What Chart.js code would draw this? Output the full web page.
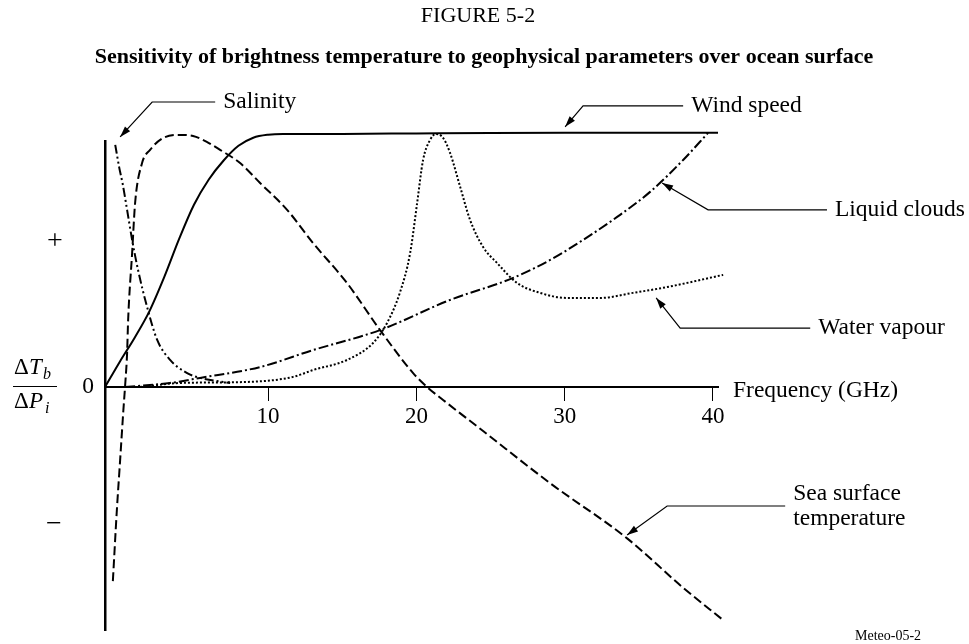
<!DOCTYPE html>
<html>
<head>
<meta charset="utf-8">
<script src="https://cdn.jsdelivr.net/npm/chart.js@4"></script>
<style>
  body { margin: 0; background: #fff; }
  #wrap { width: 969px; height: 644px; }
</style>
</head>
<body>
<div id="wrap"><canvas id="chart" width="969" height="644"></canvas></div>
<script>
// frequency in GHz, response in relative units (plateau = 100)
const windX = [-1, 0, 1, 2, 3, 4, 5, 6, 7, 8, 9, 10, 11, 15, 20, 25, 30, 35, 40.34];
const windY = [0, 10, 19.5, 30, 43.5, 58.5, 72, 82, 89.5, 95.3, 98.5, 99.7, 100, 100, 100.2, 100.4, 100.5, 100.5, 100.5];

const salinityX = [-0.31, -0.05, 0.2, 0.49, 0.83, 1.23, 1.84, 2.52, 3.39, 4.54, 5.41, 7.44];
const salinityY = [95.7, 87, 80, 70, 58.1, 46.2, 31.6, 18.6, 10.7, 5.5, 3.6, 1.6];

const seaX = [-0.47, -0.2, 0.02, 0.24, 0.36, 0.49, 0.56, 0.83, 1.03, 1.5, 2.04, 2.92, 4.07, 4.94, 5.89, 6.76, 8.11, 9.46,
  11.28, 13.03, 15.32, 17.55, 19.78, 20.72, 21.8, 24.5, 29.02, 34.21, 37.99, 40.69];
const seaY = [-76.7, -48.6, -28.9, -9.1, 0.8, 13.4, 26.5, 53, 72.7, 88.5, 93.7, 98.4, 99.6, 99.2, 96.8, 93.7, 88.5, 80.6,
  70, 56.9, 41.1, 22.5, 5.5, 0, -5.1, -17.4, -38, -59.8, -79.3, -92.1];

const cloudX = [0.36, 3.39, 5.41, 9.46, 13.03, 17.55, 22.27, 26.52, 29.02, 31.24, 33.54, 35.76, 37.99, 39.67];
const cloudY = [0, 1.6, 3.6, 7.9, 14.6, 22.5, 34.4, 43.1, 50.2, 58.1, 67.2, 77.1, 89.7, 100.4];

const vapourX = [1.37, 4.07, 8.58, 11.69, 13.03, 15.32, 17.08, 18.02, 18.9, 19.58, 20.05, 20.45, 20.92, 21.33, 21.8,
  22.27, 22.95, 23.62, 24.5, 25.44, 26.79, 28.34, 30.16, 32.39, 34.61, 36.91, 40.69];
const vapourY = [0, 1.6, 2, 4, 6.7, 10.7, 17.4, 25.3, 37.5, 53, 72.7, 89.7, 97.6, 100, 98.4,
  92.5, 79.1, 66, 55.3, 49, 41.1, 37.2, 35.2, 35.2, 37.2, 39.5, 44.3];

const xTicks = [10, 20, 30, 40];

const serif = '"Liberation Serif", "Times New Roman", serif';

function pts(xs, ys) {
    return xs.map((x, i) => ({x: x, y: ys[i]}));
}

function series(data, dash, width) {
    return {
        data: data,
        borderColor: '#000',
        borderWidth: width,
        borderDash: dash,
        pointRadius: 0,
        fill: false,
        clip: false,
        cubicInterpolationMode: 'monotone'
    };
}

// leader lines: tip / elbow / end in data units, text placed after the end
const callouts = [
    {lines: ['Salinity'], tip: [0.02, 98.8], elbow: [2.18, 112.6], end: [6.43, 112.6]},
    {lines: ['Wind speed'], tip: [30.03, 102.8], elbow: [31.24, 111.1], end: [37.99, 111.1]},
    {lines: ['Liquid clouds'], tip: [36.57, 80.6], elbow: [39.67, 70], end: [47.69, 70]},
    {lines: ['Water vapour'], tip: [36.17, 35.2], elbow: [37.79, 23.3], end: [46.56, 23.3]},
    {lines: ['Sea surface', 'temperature'], tip: [34.21, -58.5], elbow: [36.91, -47], end: [44.87, -47]}
];

function arrow(ctx, fx, fy, tx, ty) {
    const a = Math.atan2(ty - fy, tx - fx);
    const len = 11, half = 3.5;
    ctx.beginPath();
    ctx.moveTo(tx, ty);
    ctx.lineTo(tx - len * Math.cos(a) + half * Math.sin(a), ty - len * Math.sin(a) - half * Math.cos(a));
    ctx.lineTo(tx - len * Math.cos(a) - half * Math.sin(a), ty - len * Math.sin(a) + half * Math.cos(a));
    ctx.closePath();
    ctx.fill();
}

const decor = {
    id: 'decor',
    afterDraw(chart) {
        const ctx = chart.ctx;
        const xs = chart.scales.x, ys = chart.scales.y;
        ctx.save();
        ctx.fillStyle = '#000';
        ctx.strokeStyle = '#000';
        ctx.textBaseline = 'middle';

        ctx.textAlign = 'center';
        ctx.font = '22px ' + serif;
        ctx.fillText('FIGURE 5-2', 478, 16);
        ctx.font = 'bold 22px ' + serif;
        ctx.fillText('Sensitivity of brightness temperature to geophysical parameters over ocean surface', 484, 57);

        // left axis marks
        ctx.font = '23.5px ' + serif;
        ctx.fillText('0', 88, ys.getPixelForValue(0));
        ctx.font = '28px ' + serif;
        ctx.fillText('+', 55, 242);
        ctx.fillText('\u2212', 54, 525);

        // dTb / dPi
        ctx.textAlign = 'left';
        ctx.textBaseline = 'alphabetic';
        ctx.font = '23px ' + serif;
        ctx.fillText('\u0394', 14, 374);
        ctx.fillText('\u0394', 14, 408);
        ctx.font = 'italic 23px ' + serif;
        ctx.fillText('T', 29, 374);
        ctx.fillText('P', 29, 408);
        ctx.font = 'italic 16px ' + serif;
        ctx.fillText('b', 43, 379);
        ctx.fillText('i', 45, 413);
        ctx.lineWidth = 1.2;
        ctx.beginPath();
        ctx.moveTo(13, 386.5);
        ctx.lineTo(57, 386.5);
        ctx.stroke();

        ctx.textBaseline = 'middle';
        ctx.font = '23.5px ' + serif;
        ctx.fillText('Frequency (GHz)', 733, ys.getPixelForValue(0) + 4);

        // callouts
        ctx.lineWidth = 1.2;
        callouts.forEach(c => {
            const tip = [xs.getPixelForValue(c.tip[0]), ys.getPixelForValue(c.tip[1])];
            const elb = [xs.getPixelForValue(c.elbow[0]), ys.getPixelForValue(c.elbow[1])];
            const end = [xs.getPixelForValue(c.end[0]), ys.getPixelForValue(c.end[1])];
            ctx.beginPath();
            ctx.moveTo(end[0], end[1]);
            ctx.lineTo(elb[0], elb[1]);
            ctx.lineTo(tip[0], tip[1]);
            ctx.stroke();
            arrow(ctx, elb[0], elb[1], tip[0], tip[1]);
            const n = c.lines.length;
            c.lines.forEach((t, i) => {
                ctx.fillText(t, end[0] + 8, end[1] + (i - (n - 1) / 2) * 25);
            });
        });

        ctx.font = '14px ' + serif;
        ctx.fillText('Meteo-05-2', 855, 636);
        ctx.restore();
    }
};

new Chart(document.getElementById('chart'), {
    type: 'line',
    data: {
        datasets: [
            series(pts(windX, windY), [], 2),
            series(pts(salinityX, salinityY), [9, 3, 2, 3, 2, 3], 2),
            series(pts(seaX, seaY), [9, 4], 2),
            series(pts(cloudX, cloudY), [10, 3, 2, 3], 2),
            series(pts(vapourX, vapourY), [2, 2], 2)
        ]
    },
    options: {
        responsive: false,
        animation: false,
        events: [],
        layout: {padding: {left: 105, top: 141, right: 251, bottom: 14}},
        plugins: {legend: {display: false}, tooltip: {enabled: false}},
        scales: {
            x: {
                type: 'linear',
                min: -1,
                max: 40.34,
                position: {y: 0},
                afterBuildTicks: s => { s.ticks = xTicks.map(v => ({value: v})); },
                grid: {display: true, drawOnChartArea: false, drawTicks: true, tickLength: 13, tickWidth: 1, tickColor: '#000'},
                border: {display: true, color: '#000', width: 2},
                ticks: {color: '#000', font: {family: serif, size: 23}, padding: 3, maxRotation: 0, autoSkip: false}
            },
            y: {
                type: 'linear',
                min: -96,
                max: 97.2,
                position: {x: -1},
                grid: {display: false},
                border: {display: true, color: '#000', width: 2.5},
                ticks: {display: false}
            }
        }
    },
    plugins: [decor]
});
</script>
</body>
</html>
